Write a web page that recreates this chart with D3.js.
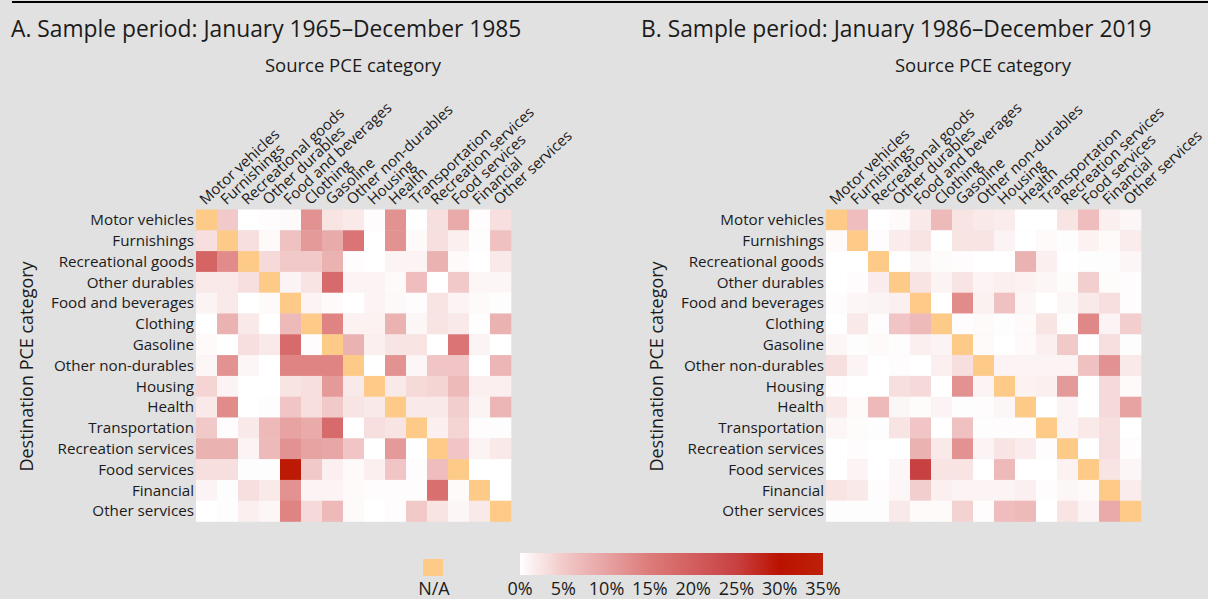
<!DOCTYPE html>
<html>
<head>
<meta charset="utf-8">
<script src="https://cdn.jsdelivr.net/npm/d3@7"></script>
<style>
  html, body { margin: 0; padding: 0; background: #e1e1e1; }
  svg { display: block; font-family: "Open Sans", sans-serif; }
</style>
</head>
<body>
<div id="app"></div>
<script>
const categories = [
    "Motor vehicles", "Furnishings", "Recreational goods", "Other durables",
    "Food and beverages", "Clothing", "Gasoline", "Other non-durables",
    "Housing", "Health", "Transportation", "Recreation services",
    "Food services", "Financial", "Other services"
]

// share of spillover, in %, rows = destination, columns = source (null = N/A)
const valuesA = [
    [null, 5, 0, 0.3, 0.5, 12, 2.5, 2, 0.3, 12, 0, 3, 9, 0.3, 3],
    [3, null, 3, 0.5, 6, 11, 9, 16, 0, 12, 0.5, 3, 1.5, 0.2, 6],
    [19, 13, null, 3.5, 5, 5, 8, 0.3, 0, 1, 1, 8, 0.5, 0, 2],
    [2, 2, 3, null, 1, 2.5, 18, 1, 1, 0.5, 6.5, 0, 5, 0.8, 0.8],
    [1, 2, 0, 0.5, null, 1, 0.5, 0, 1, 0.6, 0.3, 2.5, 1, 0.5, 0.2],
    [0, 8, 2, 0, 7, null, 14, 1.2, 1.2, 8, 0.8, 2.5, 2, 0.1, 8],
    [0.5, 0, 3, 2, 18, 0.3, null, 8, 1.5, 2.5, 2.5, 0, 16, 1, 0],
    [0.8, 12, 0.8, 0, 14, 14, 14, null, 0, 12, 0.8, 5.5, 5.5, 0, 7.5],
    [4, 1, 0, 0, 2.5, 3, 11, 2, null, 2, 3.5, 4, 7, 1.5, 1.5],
    [2, 13, 0, 0.2, 5.5, 3, 5, 2.5, 2, null, 2, 2, 4.5, 1, 7.5],
    [5, 0.3, 2, 7, 10, 9, 18, 0, 3, 2.5, null, 1.5, 4, 0.3, 0.2],
    [8, 8, 1, 7, 12, 10, 9.5, 5.5, 0, 11, 0, null, 5.5, 1, 2],
    [3, 3, 0.2, 0.2, 33, 5, 1.5, 0.5, 1.5, 5.5, 0.3, 6.5, null, 0, 0],
    [1, 0.2, 3, 2, 12, 1, 1, 0.5, 0.3, 0.3, 0.3, 17, 0.5, null, 0],
    [0, 0.3, 1.5, 0.8, 14, 3.5, 7, 0.5, 0, 0.3, 5, 2.5, 0.8, 2, null]
]

const valuesB = [
    [null, 6.5, 0, 0.5, 2, 7, 2.5, 2, 1.8, 0, 0, 2.5, 6.5, 1.5, 0.8],
    [0.5, null, 0.3, 1.8, 2.5, 0, 2.5, 2.5, 1, 0, 0.5, 0.2, 1.2, 0.5, 1.8],
    [0, 0, null, 0, 0.8, 0.4, 0.3, 0, 0, 8, 1.5, 0, 0.2, 0.2, 0.8],
    [0, 0.3, 1.8, null, 2.5, 1, 2.5, 1, 1.5, 1.2, 0.8, 0.4, 4.5, 0.4, 0.3],
    [0.3, 0.8, 1, 1.5, null, 0, 13, 1.3, 6, 0.8, 0, 0.8, 2, 3, 0.3],
    [0, 2, 0.3, 5.5, 7, null, 0.3, 0.5, 0.2, 0.5, 2.5, 0.2, 13.5, 1, 4.5],
    [0.8, 0.2, 0.5, 0.2, 1.5, 1, null, 0.5, 0, 0.5, 1.5, 5, 0, 3, 0.2],
    [3, 1, 0, 0.3, 0, 1.5, 3, null, 1, 1, 1, 1, 6, 12, 2],
    [0.3, 0, 0, 3, 3.5, 0, 12, 1, null, 1.2, 1.5, 11, 0, 3.5, 0.5],
    [2, 0.5, 7, 0.8, 0.4, 1, 0.2, 0.3, 0.8, null, 0, 1, 0, 3.5, 10],
    [0.8, 0.4, 0.2, 2.5, 5.5, 0, 6, 0.2, 0.3, 0.3, null, 1, 2, 3, 0],
    [0, 0.3, 0, 0, 8, 2, 12, 1, 2.5, 1.8, 0.3, null, 0, 3, 0.3],
    [0, 1, 0, 0.8, 25, 2.5, 2.5, 0, 7, 0, 0, 1.2, null, 2.5, 0.8],
    [2.5, 2, 0.3, 0.8, 4.5, 1.5, 1, 1, 1, 1.5, 0.3, 0.8, 0.5, null, 1.8],
    [0.2, 0.2, 0.2, 2, 0.5, 0.5, 4.2, 0.3, 6.5, 7, 0, 2.5, 1, 9, null]
]

const panels = [
    {title: "A. Sample period: January 1965\u2013December 1985", values: valuesA},
    {title: "B. Sample period: January 1986\u2013December 2019", values: valuesB}
]

const legendTicks = [0, 5, 10, 15, 20, 25, 30, 35]
const colorStops = ["#ffffff", "#f2c9c9", "#e7a2a2", "#dd7b7b", "#d35e5e", "#c84141", "#bb1200", "#bd2008"]
const naColor = "#fdca88"

const width = 1208, height = 599
const textColor = "#1b1b1b"

const color = d3.scaleLinear()
    .domain(legendTicks)
    .range(colorStops)
    .clamp(true)

const svg = d3.select("#app").append("svg")
    .attr("width", width)
    .attr("height", height)

svg.append("rect").attr("width", width).attr("height", height).attr("fill", "#e1e1e1")

// top rule
svg.append("line")
    .attr("x1", 12).attr("x2", width)
    .attr("y1", 2).attr("y2", 2)
    .attr("stroke", "#000").attr("stroke-width", 2)

const panelX = [0, 630]

panels.forEach((p, pi) => {
    const g = svg.append("g").attr("transform", `translate(${panelX[pi]},0)`)
    const left = 196, top = 209.5
    const x = d3.scaleBand().domain(d3.range(15)).range([left, left + 315])
    const y = d3.scaleBand().domain(d3.range(15)).range([top, top + 312])

    g.append("text")
        .attr("x", 11).attr("y", 37)
        .attr("font-size", 22.8)
        .attr("fill", textColor)
        .text(p.title)

    g.append("text")
        .attr("x", 353).attr("y", 72)
        .attr("text-anchor", "middle")
        .attr("font-size", 18.5)
        .attr("fill", textColor)
        .text("Source PCE category")

    g.append("text")
        .attr("transform", `translate(33,${top + 157}) rotate(-90)`)
        .attr("text-anchor", "middle")
        .attr("font-size", 18)
        .attr("fill", textColor)
        .text("Destination PCE category")

    const cells = []
    p.values.forEach((row, r) => row.forEach((v, c) => cells.push({r, c, v})))

    g.selectAll("rect.cell")
        .data(cells)
        .join("rect")
        .attr("class", "cell")
        .attr("x", d => x(d.c))
        .attr("y", d => y(d.r))
        .attr("width", x.bandwidth() + 0.3)
        .attr("height", y.bandwidth() + 0.3)
        .attr("fill", d => d.v == null ? naColor : color(d.v))

    g.selectAll("text.row")
        .data(categories)
        .join("text")
        .attr("class", "row")
        .attr("x", left - 2)
        .attr("y", (d, i) => y(i) + y.bandwidth() / 2)
        .attr("dy", "0.35em")
        .attr("text-anchor", "end")
        .attr("font-size", 15.2)
        .attr("fill", textColor)
        .text(d => d)

    g.selectAll("text.col")
        .data(categories)
        .join("text")
        .attr("class", "col")
        .attr("transform", (d, i) => `translate(${x(i) + x.bandwidth() / 2 - 1},${top - 4}) rotate(-43)`)
        .attr("font-size", 15)
        .attr("fill", textColor)
        .text(d => d)
})

// legend
const leg = svg.append("g")
leg.append("rect")
    .attr("x", 423).attr("y", 559)
    .attr("width", 20).attr("height", 17)
    .attr("fill", naColor)
leg.append("text")
    .attr("x", 434).attr("y", 595)
    .attr("text-anchor", "middle")
    .attr("font-size", 18)
    .attr("fill", textColor)
    .text("N/A")

const lx = d3.scaleLinear().domain([0, 35]).range([520, 823])
const grad = svg.append("defs").append("linearGradient").attr("id", "cbar")
grad.selectAll("stop")
    .data(legendTicks)
    .join("stop")
    .attr("offset", d => d / 35)
    .attr("stop-color", d => color(d))

leg.append("rect")
    .attr("x", lx(0)).attr("y", 553)
    .attr("width", lx(35) - lx(0)).attr("height", 22)
    .attr("fill", "url(#cbar)")

leg.selectAll("text.tick")
    .data(legendTicks)
    .join("text")
    .attr("class", "tick")
    .attr("x", d => lx(d))
    .attr("y", 595)
    .attr("text-anchor", "middle")
    .attr("font-size", 18)
    .attr("fill", textColor)
    .text(d => d + "%")
</script>
</body>
</html>
